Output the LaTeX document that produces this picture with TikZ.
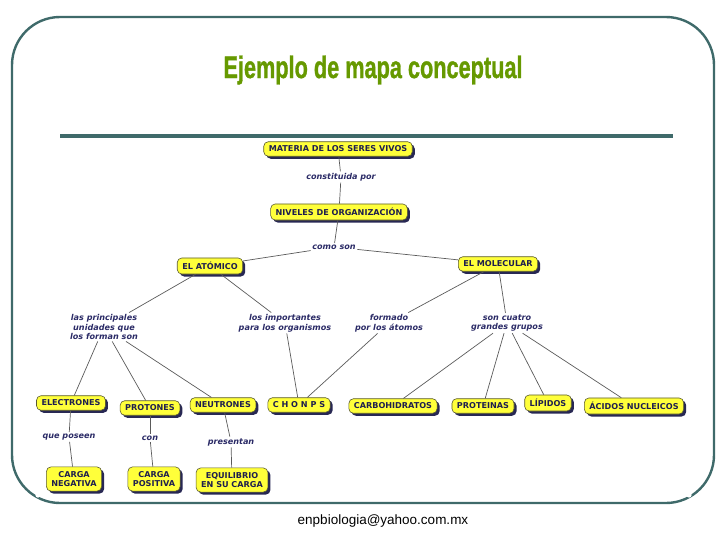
\documentclass[tikz,border=0pt]{standalone}
\usepackage{fontspec}
\usepackage{graphicx}
\usetikzlibrary{shadows}
\newfontfamily\dvs{DejaVu Sans}
\newfontfamily\lsans{Liberation Sans}
\newfontfamily\titlef[BoldFeatures={FakeBold=1.3}]{Liberation Sans}
\definecolor{framec}{HTML}{3F6A6A}
\definecolor{titlec}{HTML}{669900}
\definecolor{boxfill}{HTML}{FFFF3A}
\definecolor{boxdraw}{HTML}{5A5A30}
\definecolor{shadowc}{HTML}{1C1C4A}
\definecolor{txtc}{HTML}{1E1E4E}
\definecolor{labc}{HTML}{2A2A66}
\definecolor{linec}{HTML}{5A5A5A}
\tikzset{
  concept/.style={draw=boxdraw, line width=0.6pt, fill=boxfill, rounded corners=4.5pt,
    text=txtc, font=\dvs\bfseries\fontsize{8.1}{9.6}\selectfont, align=center,
    inner xsep=5pt, inner ysep=4.2pt,
    drop shadow={shadow xshift=2.5pt, shadow yshift=-2.5pt, fill=shadowc, opacity=0.95}},
  linklab/.style={text=labc, font=\dvs\bfseries\itshape\fontsize{8.1}{9.6}\selectfont, align=center, inner sep=1.5pt},
  conn/.style={draw=linec, line width=0.7pt}
}
\begin{document}
\begin{tikzpicture}[x=1pt,y=-1pt]
\useasboundingbox (0,0) rectangle (728,546);
% frame
\draw[framec, line width=2.4pt, rounded corners=48pt] (12,17) rectangle (714,503);
\fill[white] (38,495) circle (2.6pt);
\fill[white] (689,495) circle (2.6pt);
\draw[framec, line width=3.2pt] (60,136) -- (673,136);
% title
\node (title) at (373,70) {\color{titlec}\titlef\bfseries\fontsize{31}{33}\selectfont\scalebox{0.7}[1]{Ejemplo de mapa conceptual}};
% email
\node (mail) at (383,521) {\lsans\fontsize{13.5}{15}\selectfont enpbiologia@yahoo.com.mx};
% concept nodes
\node[concept] (mat) at (338,149) {MATERIA DE LOS SERES VIVOS};
\node[concept] (niv) at (339,212) {NIVELES DE ORGANIZACIÓN};
\node[concept] (ato) at (210,266) {EL ATÓMICO};
\node[concept] (mol) at (498,264) {EL MOLECULAR};
\node[concept] (ele) at (71,403) {ELECTRONES};
\node[concept] (pro) at (150,408) {PROTONES};
\node[concept] (neu) at (223,405) {NEUTRONES};
\node[concept] (ch) at (299,405) {C H O N P S};
\node[concept] (car) at (393,406) {CARBOHIDRATOS};
\node[concept] (prt) at (483,406) {PROTEINAS};
\node[concept] (lip) at (548,403) {LÍPIDOS};
\node[concept] (aci) at (634,406) {ÁCIDOS NUCLEICOS};
\node[concept] (cn) at (74,479) {CARGA\\NEGATIVA};
\node[concept] (cp) at (154,479) {CARGA\\POSITIVA};
\node[concept] (eq) at (232,480) {EQUILIBRIO\\EN SU CARGA};
% link labels
\node[linklab] (cons) at (341,177) {constituida por};
\node[linklab] (como) at (334,247) {como son};
\node[linklab] (lp) at (104,327) {las principales\\unidades que\\los forman son};
\node[linklab] (li) at (285,323) {los importantes\\para los organismos};
\node[linklab] (fo) at (389,323) {formado\\por los átomos};
\node[linklab] (sc) at (507,323) {son cuatro\\grandes grupos};
\node[linklab] (qp) at (69,437) {que poseen};
\node[linklab] (con) at (150,438) {con};
\node[linklab] (pres) at (231,442) {presentan};
% connectors
\draw[conn] (mat) -- (cons);
\draw[conn] (cons) -- (niv);
\draw[conn] (niv) -- (como);
\draw[conn] (como) -- (ato);
\draw[conn] (como) -- (mol);
\draw[conn] (ato) -- (lp);
\draw[conn] (ato) -- (li);
\draw[conn] (mol) -- (fo);
\draw[conn] (mol) -- (sc);
\draw[conn] (lp) -- (ele);
\draw[conn] (lp) -- (pro);
\draw[conn] (lp) -- (neu);
\draw[conn] (li) -- (ch);
\draw[conn] (fo) -- (ch);
\draw[conn] (sc) -- (car);
\draw[conn] (sc) -- (prt);
\draw[conn] (sc) -- (lip);
\draw[conn] (sc) -- (aci);
\draw[conn] (ele) -- (qp);
\draw[conn] (qp) -- (cn);
\draw[conn] (pro) -- (con);
\draw[conn] (con) -- (cp);
\draw[conn] (neu) -- (pres);
\draw[conn] (pres) -- (eq);
\end{tikzpicture}
\end{document}
